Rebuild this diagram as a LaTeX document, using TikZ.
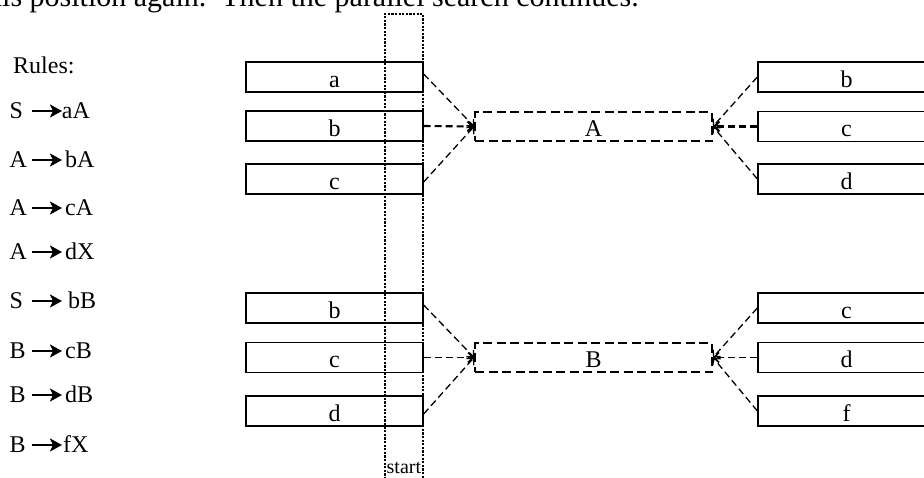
\documentclass[tikz,border=0pt]{standalone}
\usepackage{fontspec}
\setmainfont{Liberation Serif}
\usetikzlibrary{arrows.meta}
\begin{document}
\begin{tikzpicture}[x=1pt,y=-1pt,
  txt/.style={inner sep=0pt, font=\fontsize{24}{28}\selectfont},
  symbox/.style={draw, line width=1.3pt, minimum width=177pt, inner sep=0pt,
    text height=25pt, text depth=5pt, font=\fontsize{24}{28}\selectfont},
  ntbox/.style={draw, line width=1.9pt, dash pattern=on 9pt off 4.5pt,
    minimum width=237pt, inner sep=0pt, text height=24pt, text depth=5pt,
    font=\fontsize{24}{28}\selectfont},
  link/.style={line width=1.3pt, dash pattern=on 7pt off 4pt,
    -{Straight Barb[length=5pt,width=10pt]}},
  thicklink/.style={link, line width=2.1pt},
  rulearr/.style={line width=2.8pt, -{Stealth[length=12pt,width=13pt,inset=3pt]}},
  startbar/.style={line width=2.5pt, dash pattern=on 2.2pt off 1.4pt}
]
\clip (0,0) rectangle (924,477);

% running text above the figure
\node[txt, font=\fontsize{30}{34}\selectfont, anchor=base west] (prose) at (-13,6.5)
  {his position again.\ \ Then the parallel search continues.};

% grammar rules
\node[txt, anchor=base west] (rhead) at (13,73) {Rules:};
\foreach \l/\r/\b/\rx [count=\i] in {S/aA/118/61.7, A/bA/167/65, A/cA/215/65, A/dX/259/65,
                          S/bB/308/68, B/cB/358/65, B/dB/402/65, B/fX/452/63} {
  \node[txt, anchor=base west] (rl\i) at (9.3,\b) {\l};
  \node[txt, anchor=base west] (rr\i) at (\rx,\b) {\r};
  \draw[rulearr] (31.5,\b-7) -- (62,\b-7);
}

% input symbols on the left
\node[symbox] (la1) at (334.5,77)    {a};
\node[symbox] (la2) at (334.5,126)   {b};
\node[symbox] (la3) at (334.5,179)   {c};
\node[symbox] (lb1) at (334.5,308)   {b};
\node[symbox] (lb2) at (334.5,357.5) {c};
\node[symbox] (lb3) at (334.5,411)   {d};

% nonterminals
\node[ntbox] (ntA) at (593.5,126.5) {A};
\node[ntbox] (ntB) at (593.5,357.5) {B};

% successor symbols on the right
\node[symbox] (ra1) at (846.5,77)    {b};
\node[symbox] (ra2) at (846.5,126.5) {c};
\node[symbox] (ra3) at (846.5,179)   {d};
\node[symbox] (rb1) at (846.5,308)   {c};
\node[symbox] (rb2) at (846.5,357.5) {d};
\node[symbox] (rb3) at (846.5,411)   {f};

% links into A
\draw[link] ([yshift=3pt]la1.east) -- (ntA.west);
\draw[thicklink] (la2.east) -- (ntA.west);
\draw[link] ([yshift=-3pt]la3.east) -- (ntA.west);
\draw[link] (ra1.west) -- (ntA.east);
\draw[thicklink] (ra2.west) -- (ntA.east);
\draw[link] (ra3.west) -- (ntA.east);

% links into B
\draw[link] ([yshift=3pt]lb1.east) -- (ntB.west);
\draw[link, line width=1.5pt] (lb2.east) -- (ntB.west);
\draw[link] ([yshift=-3pt]lb3.east) -- (ntB.west);
\draw[link] (rb1.west) -- (ntB.east);
\draw[link, line width=1.5pt] (rb2.west) -- (ntB.east);
\draw[link] (rb3.west) -- (ntB.east);

% start column
\coordinate (sbl) at (385,490);
\coordinate (sbr) at (423,490);
\draw[startbar] (sbl) |- (423,14) -- (sbr);
\node[inner sep=0pt, anchor=base west, font=\fontsize{20}{24}\selectfont] (startlbl) at (386.5,473) {start};
\end{tikzpicture}
\end{document}
